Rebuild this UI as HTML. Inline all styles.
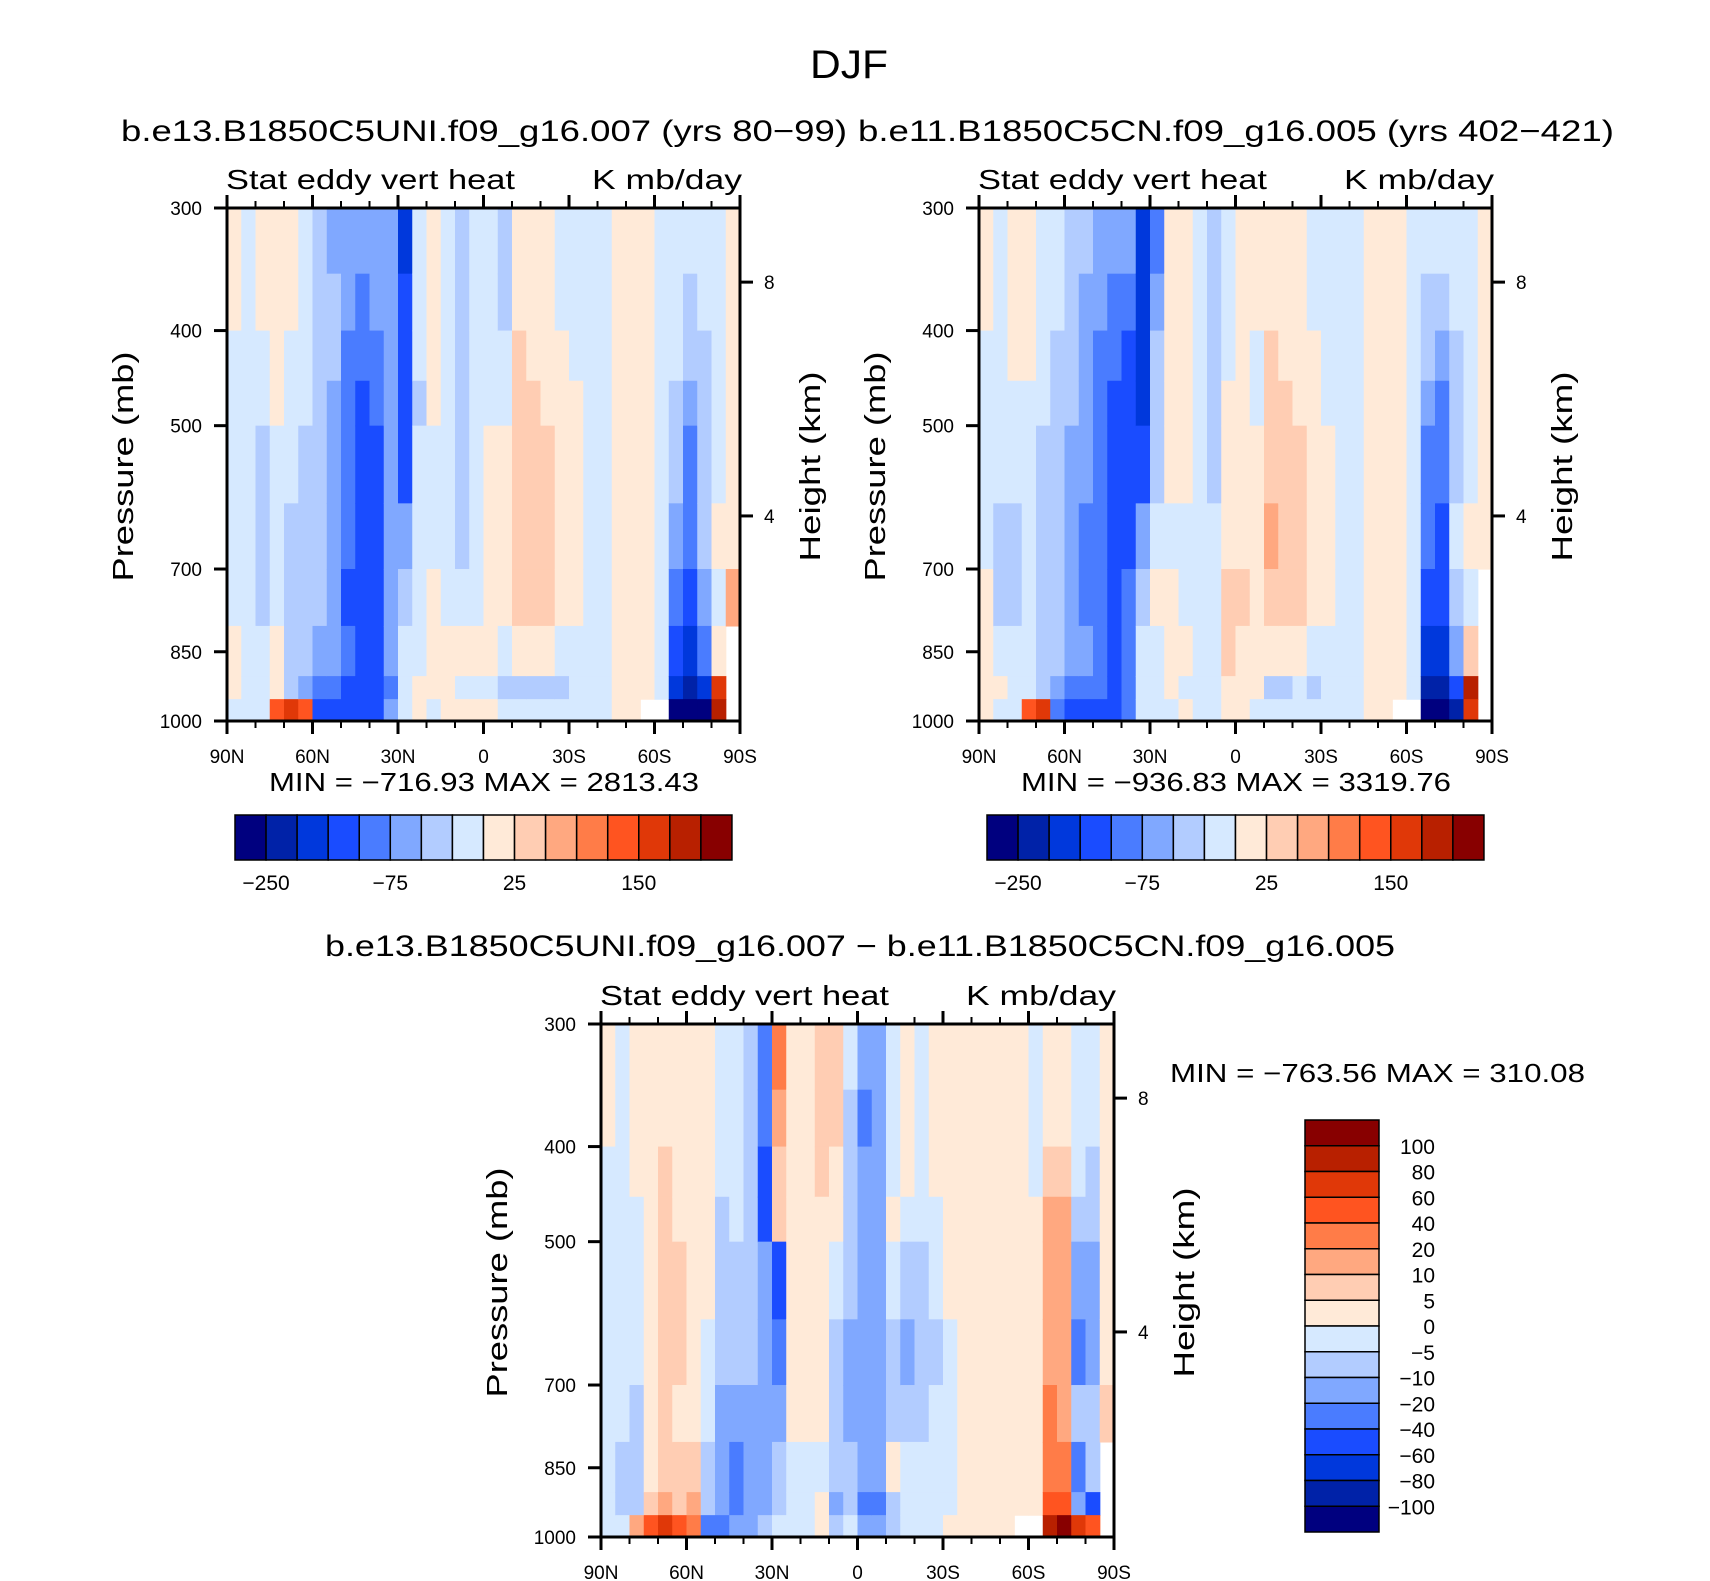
<!DOCTYPE html>
<html><head><meta charset="utf-8"><style>
html,body{margin:0;padding:0;background:#fff;}
svg{display:block;font-family:"Liberation Sans",sans-serif;}
</style></head><body>
<svg id="fig" width="1710" height="1581" viewBox="0 0 1710 1581" xmlns="http://www.w3.org/2000/svg">
<text x="849" y="78" font-size="40" text-anchor="middle" textLength="78" lengthAdjust="spacingAndGlyphs">DJF</text>
<text x="121" y="141" font-size="30" textLength="726" lengthAdjust="spacingAndGlyphs">b.e13.B1850C5UNI.f09_g16.007 (yrs 80−99)</text>
<text x="858" y="141" font-size="30" textLength="756" lengthAdjust="spacingAndGlyphs">b.e11.B1850C5CN.f09_g16.005 (yrs 402−421)</text>
<text x="325" y="956" font-size="30" textLength="1070" lengthAdjust="spacingAndGlyphs">b.e13.B1850C5UNI.f09_g16.007 − b.e11.B1850C5CN.f09_g16.005</text>
<g id="panels"></g>
</svg>
<script>
const pressureEdges = [300,350,400,450,500,600,700,800,900,950,1000];
const pressureTicks = [300,400,500,700,850,1000];
const latTickLabels = ["90N","60N","30N","0","30S","60S","90S"];
const heightTicks = [4,8];
const heightTickPressures = [618,357];
const absLevels = [-250,-200,-150,-100,-75,-50,-25,0,25,50,75,100,150,200,250];
const absLabels = ["-250","-75","25","150"];
const diffLevels = [-100,-80,-60,-40,-20,-10,-5,0,5,10,20,40,60,80,100];
const diffLabels = ["100","80","60","40","20","10","5","0","-5","-10","-20","-40","-60","-80","-100"];
const colors = ["#00007f","#0022a8","#0038dc","#1a4cff","#4a7cff","#80a8ff","#b2ccff","#d6e9ff",
                "#ffead8","#ffcdb3","#ffa880","#ff7c48","#ff5420","#e03808","#b82000","#880000"];
const N=null;
const field1 = [
[10,10,-10,-10,-10,-10,-10,10,10,-10],
[-10,-10,-10,-10,-10,-10,-10,-10,-10,-10],
[10,10,-10,-10,-35,-35,-35,-10,-10,-10],
[10,10,10,10,-10,-10,-10,10,10,125],
[10,10,-10,-10,-10,-35,-35,-35,-35,175],
[-10,-10,-10,-10,-35,-35,-35,-35,-60,125],
[-35,-35,-35,-35,-35,-35,-35,-60,-85,-125],
[-60,-35,-35,-60,-60,-60,-60,-60,-85,-125],
[-60,-60,-85,-85,-85,-85,-125,-85,-125,-125],
[-60,-85,-85,-125,-125,-125,-125,-125,-125,-125],
[-60,-60,-85,-85,-125,-125,-125,-125,-125,-125],
[-60,-60,-60,-60,-60,-60,-60,-60,-85,-60],
[-175,-125,-125,-125,-125,-60,-35,-10,-10,-10],
[-10,-10,-10,-35,-10,-10,-10,-10,10,10],
[10,10,10,10,-10,-10,10,10,10,-10],
[-10,-10,-10,-10,-10,-10,-10,10,10,10],
[-35,-35,-35,-35,-35,-35,-10,10,-10,10],
[-10,-10,-10,-10,-10,-10,-10,10,-10,10],
[-10,-10,-10,-10,10,10,10,10,-10,10],
[-35,-35,-10,-10,10,10,10,-10,-35,-10],
[10,10,35,35,35,35,35,10,-35,-10],
[10,10,10,35,35,35,35,10,-35,-10],
[10,10,10,10,35,35,35,10,-35,-10],
[-10,-10,10,10,10,10,10,-10,-35,-10],
[-10,-10,-10,10,10,10,10,-10,-10,-10],
[-10,-10,-10,-10,-10,-10,-10,-10,-10,-10],
[-10,-10,-10,-10,-10,-10,-10,-10,-10,-10],
[10,10,10,10,10,10,10,10,10,10],
[10,10,10,10,10,10,10,10,10,10],
[10,10,10,10,10,10,10,10,10,N],
[-10,-10,-10,-10,-10,-10,-10,-10,-10,N],
[-10,-10,-10,-35,-35,-60,-85,-125,-175,-300],
[-10,-35,-35,-60,-85,-85,-125,-175,-225,-300],
[-10,-10,-35,-35,-35,-35,-60,-85,-175,-300],
[-10,-10,-10,-10,-10,10,-10,10,175,225],
[10,10,10,10,10,10,60,N,N,N]];
const field2 = [
[10,10,-10,-10,-10,-10,10,10,10,10],
[-10,-10,-10,-10,-10,-35,-35,-10,10,-10],
[10,10,10,-10,-10,-35,-35,-10,-10,-10],
[10,10,10,-10,-10,-10,-10,-10,-10,125],
[-10,-10,-10,-10,-35,-35,-35,-35,-35,175],
[-10,-10,-35,-35,-35,-35,-35,-35,-60,-85],
[-35,-35,-35,-35,-60,-60,-60,-60,-85,-125],
[-35,-60,-60,-60,-60,-85,-85,-60,-85,-125],
[-60,-60,-85,-85,-85,-85,-85,-85,-85,-125],
[-60,-85,-85,-125,-125,-125,-125,-125,-125,-125],
[-60,-85,-125,-125,-125,-125,-85,-85,-85,-85],
[-175,-175,-175,-175,-125,-60,-35,-10,-10,-10],
[-85,-60,-35,-35,-35,-10,10,-10,-10,-10],
[10,10,10,10,10,-10,10,10,10,-10],
[10,10,10,10,10,-10,-10,10,-10,10],
[-10,-10,-10,-10,-10,-10,-10,-10,-10,-10],
[-35,-35,-35,-35,-35,-10,-10,-10,-10,-10],
[-10,-10,-10,10,10,10,35,35,10,10],
[10,10,10,10,10,10,35,10,10,10],
[10,10,-10,-10,10,10,10,10,10,-10],
[10,10,35,35,35,60,35,10,-35,-10],
[10,10,10,35,35,35,35,10,-35,-10],
[10,10,10,10,35,35,35,10,-10,-10],
[-10,-10,10,10,10,10,10,-10,-35,-10],
[-10,-10,-10,-10,10,10,10,-10,-10,-10],
[-10,-10,-10,-10,-10,-10,-10,-10,-10,-10],
[-10,-10,-10,-10,-10,-10,-10,-10,-10,-10],
[10,10,10,10,10,10,10,10,10,10],
[10,10,10,10,10,10,10,10,10,10],
[10,10,10,10,10,10,10,10,10,N],
[-10,-10,-10,-10,-10,-10,-10,-10,-10,N],
[-10,-35,-35,-60,-85,-85,-125,-175,-225,-300],
[-10,-35,-60,-85,-85,-125,-125,-175,-225,-300],
[-10,-10,-35,-35,-35,-10,-35,-60,-125,-225],
[-10,-10,-10,-10,-10,10,-10,35,225,175],
[10,10,10,10,10,10,N,N,N,N]];
const field3 = [
[2,2,-2,-2,-2,-2,-2,-2,-2,-2],
[-2,-2,-2,-2,-2,-2,-2,-7,-7,-2],
[2,2,2,-2,-2,-2,-7,-7,-7,15],
[2,2,2,2,2,2,2,2,7,50],
[2,2,7,7,7,7,7,7,15,70],
[2,2,2,2,7,7,2,7,7,50],
[2,2,2,2,2,2,2,7,15,30],
[2,2,2,2,2,-2,-2,-7,-7,-30],
[-2,-2,-2,-7,-7,-7,-15,-15,-15,-30],
[-2,-2,-2,-2,-7,-7,-15,-30,-30,-15],
[-7,-7,-7,-7,-7,-7,-15,-15,-15,-15],
[-30,-30,-50,-50,-15,-15,-15,-15,-15,-7],
[30,15,7,7,-50,-30,-15,-7,-7,-2],
[2,2,2,2,2,2,2,-2,-2,-2],
[2,2,2,2,2,2,2,-2,-2,-2],
[7,7,7,2,2,2,2,-2,2,2],
[7,7,2,2,-2,-7,-7,-7,-15,-7],
[-2,-7,-7,-7,-7,-15,-15,-7,-7,-2],
[-15,-30,-15,-15,-15,-15,-15,-15,-30,-15],
[-15,-15,-15,-15,-15,-15,-15,-15,-30,-15],
[-2,-2,-2,2,-2,-7,-7,2,-7,-7],
[2,2,2,-2,-7,-15,-7,-2,-2,-2],
[-2,-2,-2,-2,-7,-7,-7,-2,-2,-2],
[2,2,2,-2,-2,-7,-2,-2,-2,-2],
[2,2,2,2,2,-2,-2,-2,-2,2],
[2,2,2,2,2,2,2,2,2,2],
[2,2,2,2,2,2,2,2,2,2],
[2,2,2,2,2,2,2,2,2,2],
[2,2,2,2,2,2,2,2,2,2],
[2,2,2,2,2,2,2,2,2,N],
[-2,-2,-2,2,2,2,2,2,2,N],
[2,2,7,15,15,15,30,30,50,90],
[2,2,7,15,15,15,15,30,50,120],
[-2,-2,-2,-7,-15,-30,-7,-30,-15,70],
[-2,-2,-7,-7,-15,-15,-7,-7,-50,50],
[2,2,2,2,2,2,7,N,N,N]];

const NS="http://www.w3.org/2000/svg";
const root=document.getElementById('panels');
function mk(tag,attrs,parent){const e=document.createElementNS(NS,tag);for(const k in attrs)e.setAttribute(k,attrs[k]);(parent||root).appendChild(e);return e;}
function classOf(v,levels){let i=0;while(i<levels.length&&v>=levels[i])i++;return i;}

function drawPanel(px,py,field,levels,nameP){
  const W=513,H=513;
  const lp0=Math.log(300),lp1=Math.log(1000);
  const yOfP=p=>py+(Math.log(p)-lp0)/(lp1-lp0)*H;
  const xOfLat=lat=>px+(90-lat)/180*W;
  const g=mk('g',{});
  
  
  const cells=mk('g',{},g);
  
  
  for(let c=0;c<field.length;c++){
    const x0=xOfLat(90-c*5), x1=xOfLat(90-(c+1)*5);
    for(let r=0;r<field[c].length;r++){
      const v=field[c][r]; if(v===null) continue;
      const y0=yOfP(pressureEdges[r]), y1=yOfP(pressureEdges[r+1]);
      const rc=mk('rect',{x:x0.toFixed(2),y:y0.toFixed(2),width:(x1-x0+0.6).toFixed(2),height:(y1-y0+0.6).toFixed(2),fill:colors[classOf(v,levels)]},cells);
      
      
    }
  }
  const fr=mk('rect',{x:px,y:py,width:W,height:H,fill:'none',stroke:'#000','stroke-width':3},g);
  
  
  for(let lat=90;lat>=-90;lat-=10){
    const x=xOfLat(lat), major=(lat%30===0), L=major?13:7;
    mk('line',{x1:x,y1:py,x2:x,y2:py-L,stroke:'#000','stroke-width':major?3:2},g);
    mk('line',{x1:x,y1:py+H,x2:x,y2:py+H+L,stroke:'#000','stroke-width':major?3:2},g);
  }
  latTickLabels.forEach((lab,i)=>{
    const t=mk('text',{x:xOfLat(90-i*30),y:py+H+42,'font-size':19,'text-anchor':'middle'},g);
    t.textContent=lab;
    
    
  });
  pressureTicks.forEach(p=>{
    const y=yOfP(p);
    mk('line',{x1:px,y1:y,x2:px-13,y2:y,stroke:'#000','stroke-width':3},g);
    const t=mk('text',{x:px-25,y:y+7,'font-size':19,'text-anchor':'end'},g);
    t.textContent=String(p);
    
    
  });
  heightTicks.forEach((h,i)=>{
    const y=yOfP(heightTickPressures[i]);
    mk('line',{x1:px+W,y1:y,x2:px+W+13,y2:y,stroke:'#000','stroke-width':3},g);
    const t=mk('text',{x:px+W+24,y:y+7,'font-size':19},g);
    t.textContent=String(h);
    
    
  });
  const cy=py+H/2+2;
  const yl=mk('text',{x:0,y:0,'font-size':29,'text-anchor':'middle',transform:`translate(${px-94},${cy}) rotate(-90)`,textLength:230,lengthAdjust:'spacingAndGlyphs'},g);
  yl.textContent='Pressure (mb)';
  
  
  const hl=mk('text',{x:0,y:0,'font-size':29,'text-anchor':'middle',transform:`translate(${px+W+80},${cy}) rotate(-90)`,textLength:190,lengthAdjust:'spacingAndGlyphs'},g);
  hl.textContent='Height (km)';
  
  
  const s1=mk('text',{x:px-1,y:py-19,'font-size':28,textLength:289,lengthAdjust:'spacingAndGlyphs'},g);
  s1.textContent='Stat eddy vert heat';
  
  
  const s2=mk('text',{x:px+W+2,y:py-19,'font-size':28,'text-anchor':'end',textLength:150,lengthAdjust:'spacingAndGlyphs'},g);
  s2.textContent='K mb/day';
  
  
}

function statText(x,y,txt,len){
  const t=mk('text',{x:x,y:y,'font-size':26,textLength:len,lengthAdjust:'spacingAndGlyphs'});
  t.textContent=txt;
  
  
}

function hColorbar(x,y,nameP){
  const w=31.06,h=45;
  const g=mk('g',{});
  
  
  colors.forEach((c,i)=>{
    const r=mk('rect',{x:x+i*w,y:y,width:w,height:h,fill:c,stroke:'#000','stroke-width':1.5},g);
    
    
  });
  absLabels.forEach(lab=>{
    const i=absLevels.indexOf(Number(lab));
    const t=mk('text',{x:x+(i+1)*w,y:y+h+30,'font-size':21,'text-anchor':'middle'},g);
    t.textContent=lab.replace('-','−');
    
    
  });
}
function vColorbar(x,y){
  const w=74,h=25.75;
  const g=mk('g',{});
  
  
  colors.slice().reverse().forEach((c,i)=>{
    const r=mk('rect',{x:x,y:y+i*h,width:w,height:h,fill:c,stroke:'#000','stroke-width':1.5},g);
    
    
  });
  diffLabels.forEach((lab,i)=>{
    const t=mk('text',{x:x+w+56,y:y+(i+1)*h+8,'font-size':21,'text-anchor':'end'},g);
    t.textContent=lab.replace('-','−');
    
    
  });
}

drawPanel(227,208,field1,absLevels,'left');
drawPanel(979,208,field2,absLevels,'right');
drawPanel(601,1024,field3,diffLevels,'diff');
statText(269,791,'MIN = −716.93   MAX = 2813.43',430);
statText(1021,791,'MIN = −936.83   MAX = 3319.76',430);
statText(1170,1082,'MIN = −763.56   MAX = 310.08',415);
hColorbar(235,815,'left');
hColorbar(987,815,'right');
vColorbar(1305,1120);
</script>
</body></html>
